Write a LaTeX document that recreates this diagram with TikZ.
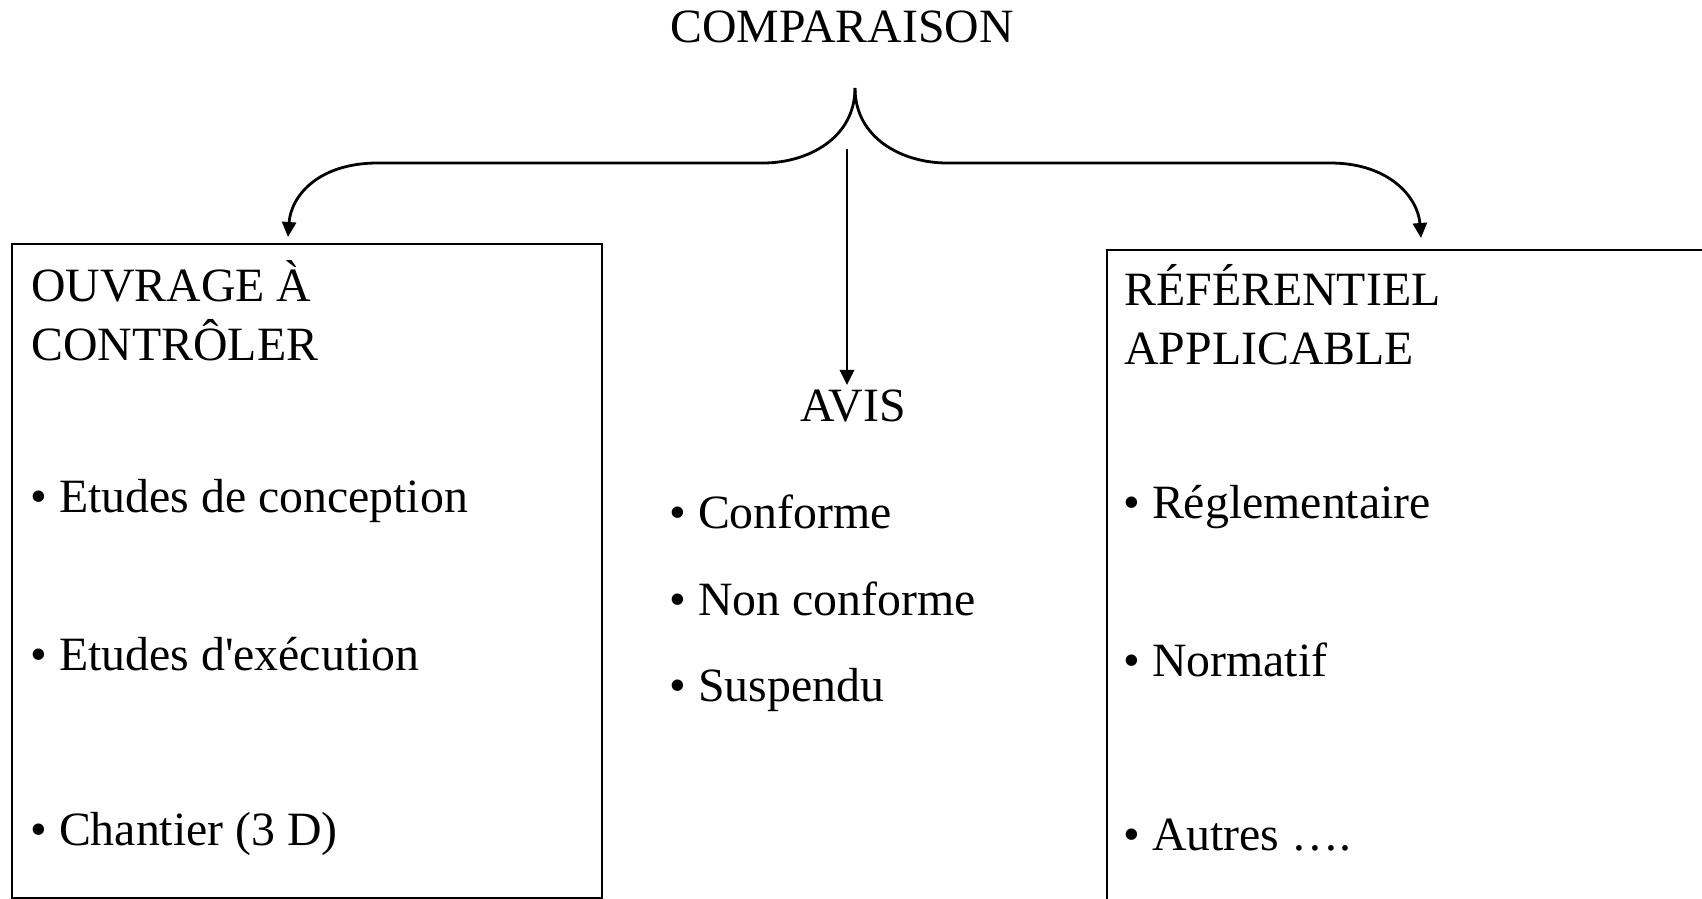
\documentclass[tikz,border=0pt]{standalone}
\usepackage{fontspec}
\setmainfont{Liberation Serif}[Ligatures=TeXOff]
\usetikzlibrary{arrows.meta,calc}
\begin{document}
\begin{tikzpicture}[x=0.5pt,y=-0.5pt,
  lbl/.style={inner sep=0pt, font=\fontsize{23.9}{29.5}\selectfont},
  frame/.style={draw, line width=1.1pt, inner sep=0pt, anchor=north west},
  link/.style={line width=1.4pt, -{Triangle[length=7.5pt,width=7pt]}}]
\clip (0,0) rectangle (1702,899);
\useasboundingbox (0,0) rectangle (1702,899);

% title
\node[lbl, anchor=base] (comparaison) at (842,43) {COMPARAISON};

% the two framed columns
\node[frame, minimum width=295pt, minimum height=327pt] (ouvrage) at (11,243) {};
\node[frame, minimum width=320pt, minimum height=340pt] (referentiel) at (1106,249) {};

% left column
\node[lbl, anchor=base west] (o1) at (31,301) {OUVRAGE À};
\node[lbl, anchor=base west] (o2) at (31,360) {CONTRÔLER};
\node[lbl, anchor=base west] (o3) at (30,512) {• Etudes de conception};
\node[lbl, anchor=base west] (o4) at (30,670) {• Etudes d'exécution};
\node[lbl, anchor=base west] (o5) at (30,845) {• Chantier (3 D)};

% middle column
\node[lbl, anchor=base] (avis) at (853,421) {AVIS};
\node[lbl, anchor=base west] (a1) at (669,528) {• Conforme};
\node[lbl, anchor=base west] (a2) at (669,615) {• Non conforme};
\node[lbl, anchor=base west] (a3) at (669,701) {• Suspendu};

% right column
\node[lbl, anchor=base west] (r1) at (1124,305) {RÉFÉRENTIEL};
\node[lbl, anchor=base west] (r2) at (1124,364) {APPLICABLE};
\node[lbl, anchor=base west] (r3) at (1123,518) {• Réglementaire};
\node[lbl, anchor=base west] (r4) at (1123,676) {• Normatif};
\node[lbl, anchor=base west] (r5) at (1123,850) {• Autres ….};

% brace splitting towards both frames
\coordinate (fork) at (855,88);
\coordinate (stem) at (847,149);
\draw[link] (fork) .. controls (855,138) and (808,163) .. (763,163)
  -- (378,163) .. controls (318,163) and (291,196) .. ($(ouvrage.north west)+(277,-6)$);
\draw[link] (fork) .. controls (855,138) and (902,163) .. (947,163)
  -- (1330,163) .. controls (1390,163) and (1418,198) .. ($(referentiel.north west)+(315,-11)$);

% straight arrow down to the verdict
\draw[link] (stem) -- ($(stem |- avis.north)+(0,-4)$);
\end{tikzpicture}
\end{document}
